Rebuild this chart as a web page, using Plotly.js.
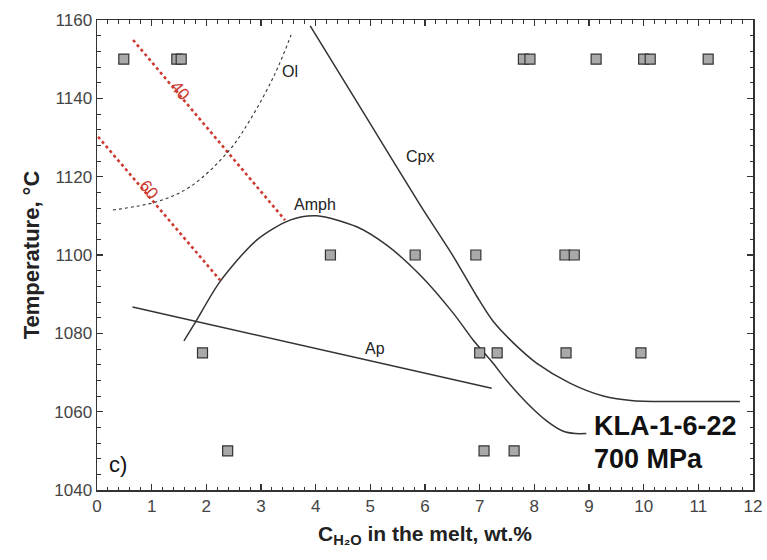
<!DOCTYPE html>
<html>
<head>
<meta charset="utf-8">
<script src="https://cdn.plot.ly/plotly-3.0.1.min.js"></script>
<style>
  html, body { margin: 0; padding: 0; background: #fff; }
  #chart { width: 767px; height: 560px; }
</style>
</head>
<body>
<div id="chart"></div>
<script>
// Experimental run conditions (H2O in melt, wt.%, and temperature, °C)
const runX = [0.49, 1.46, 1.54, 7.80, 7.92, 9.13, 10.0, 10.12, 11.18,
              4.27, 5.82, 6.93, 8.56, 8.73,
              1.93, 7.00, 7.32, 8.58, 9.95,
              2.39, 7.08, 7.63];
const runT = [1150, 1150, 1150, 1150, 1150, 1150, 1150, 1150, 1150,
              1100, 1100, 1100, 1100, 1100,
              1075, 1075, 1075, 1075, 1075,
              1050, 1050, 1050];

// Mineral-in boundaries
const olX = [0.29, 1.09, 1.70, 2.40, 2.80, 3.26, 3.55];
const olT = [1111.5, 1113.6, 1117.4, 1126.4, 1134.5, 1146.4, 1156.2];

const amphX = [1.59, 1.79, 2.25, 2.92, 3.53, 4.02, 4.75, 5.30, 5.91, 6.52, 6.88, 7.22, 7.49, 7.86, 8.23, 8.53, 8.75, 8.95];
const amphT = [1078.1, 1082.6, 1093.2, 1103.8, 1108.9, 1110.0, 1107.2, 1102.5, 1094.9, 1085.1, 1078.3, 1072.8, 1068.0, 1062.3, 1057.6, 1055.0, 1054.4, 1054.4];

const cpxX = [3.90, 4.90, 5.91, 6.52, 6.95, 7.25, 7.62, 8.04, 8.65, 9.26, 9.81, 10.8, 11.76];
const cpxT = [1158.5, 1135.8, 1112.8, 1099.6, 1089.4, 1083.0, 1077.5, 1072.4, 1067.3, 1064.0, 1062.8, 1062.6, 1062.6];

const apX = [0.65, 7.22];
const apT = [1086.7, 1066.0];

// Melt fraction isolines (%)
const iso40X = [0.66, 3.44];
const iso40T = [1154.9, 1108.9];
const iso60X = [0.02, 2.25];
const iso60T = [1130.2, 1093.6];

const dark = '#333333';
const red = '#cc3a30';
const font = 'Liberation Sans, Arial, sans-serif';

const traces = [
  { x: iso40X, y: iso40T, mode: 'lines', line: { color: red, width: 2.6, dash: 'dot' }, hoverinfo: 'skip' },
  { x: iso60X, y: iso60T, mode: 'lines', line: { color: red, width: 2.6, dash: 'dot' }, hoverinfo: 'skip' },
  { x: olX, y: olT, mode: 'lines', line: { color: dark, width: 1.1, dash: 'dot', shape: 'spline' }, hoverinfo: 'skip' },
  { x: amphX, y: amphT, mode: 'lines', line: { color: dark, width: 1.5, shape: 'spline', smoothing: 0.8 }, hoverinfo: 'skip' },
  { x: cpxX, y: cpxT, mode: 'lines', line: { color: dark, width: 1.5, shape: 'spline', smoothing: 0.8 }, hoverinfo: 'skip' },
  { x: apX, y: apT, mode: 'lines', line: { color: dark, width: 1.5 }, hoverinfo: 'skip' },
  { x: runX, y: runT, mode: 'markers',
    marker: { symbol: 'square', size: 10, color: '#a9a9a9', line: { color: dark, width: 1.2 } } }
];

const ann = (x, y, text, opts) => Object.assign({
  x: x, y: y, xref: 'x', yref: 'y', text: text, showarrow: false,
  font: { family: font, size: 16, color: '#222' }
}, opts || {});

const layout = {
  width: 767, height: 560,
  margin: { l: 97, r: 14, t: 20, b: 70 },
  paper_bgcolor: '#fff', plot_bgcolor: '#fff',
  showlegend: false,
  font: { family: font, color: '#333' },
  xaxis: {
    range: [0, 12], dtick: 1, tick0: 0,
    ticks: 'inside', ticklen: 6, tickwidth: 1.2, tickcolor: dark,
    minor: { dtick: 0.2, ticks: 'inside', ticklen: 3.5, tickwidth: 1, tickcolor: dark },
    showline: true, linecolor: dark, linewidth: 1.5, mirror: 'ticks',
    showgrid: false, zeroline: false,
    tickfont: { family: font, size: 17, color: '#444' },
    title: { text: '<b>C<sub>H₂O</sub> in the melt, wt.%</b>', font: { family: font, size: 21, color: '#222' }, standoff: 11 }
  },
  yaxis: {
    range: [1040, 1160], dtick: 20, tick0: 1040,
    ticks: 'inside', ticklen: 6, tickwidth: 1.2, tickcolor: dark,
    minor: { dtick: 4, ticks: 'inside', ticklen: 3.5, tickwidth: 1, tickcolor: dark },
    showline: true, linecolor: dark, linewidth: 1.5, mirror: 'ticks',
    showgrid: false, zeroline: false,
    tickfont: { family: font, size: 17, color: '#444' },
    title: { text: '<b>Temperature, °C</b>', font: { family: font, size: 22, color: '#222' }, standoff: 8 }
  },
  annotations: [
    ann(3.53, 1146.8, 'Ol'),
    ann(3.98, 1113.0, 'Amph'),
    ann(5.91, 1125.1, 'Cpx'),
    ann(5.09, 1076.2, 'Ap'),
    ann(1.52, 1142.1, '40', { textangle: 50, font: { family: font, size: 17, color: red } }),
    ann(0.94, 1116.6, '60', { textangle: 50, font: { family: font, size: 17, color: red } }),
    ann(0.38, 1046.5, 'c)', { font: { family: font, size: 22, color: '#111' } }),
    ann(9.05, 1056.4, '<b>KLA-1-6-22</b>', { xanchor: 'left', font: { family: font, size: 27, color: '#111' } }),
    ann(9.05, 1048.0, '<b>700 MPa</b>', { xanchor: 'left', font: { family: font, size: 27, color: '#111' } })
  ]
};

Plotly.newPlot('chart', traces, layout, { displayModeBar: false, staticPlot: true });
</script>
</body>
</html>
